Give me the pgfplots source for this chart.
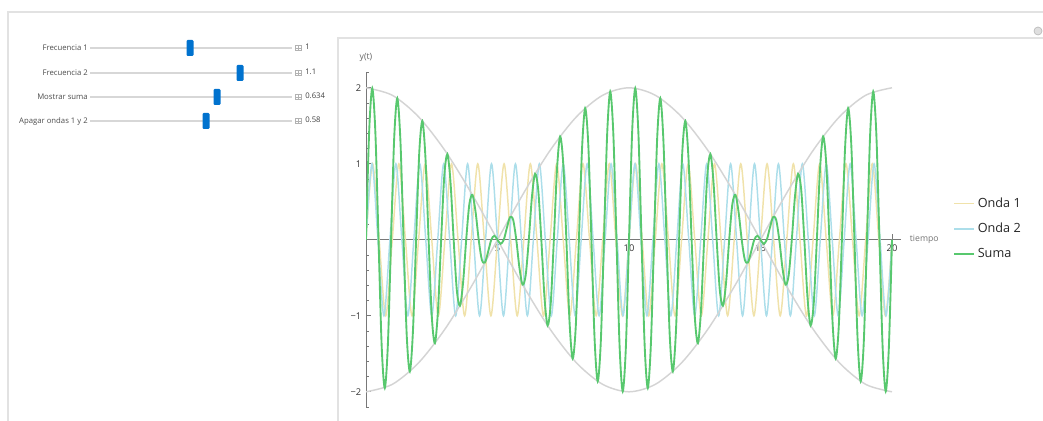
\documentclass[border=0pt]{standalone}
\usepackage{pgfplots}
\pgfplotsset{compat=1.18}
\usepackage{fontspec}
\setmainfont{Open Sans}
\definecolor{onda1}{RGB}{240,226,170}
\definecolor{onda2}{RGB}{172,222,234}
\definecolor{suma}{RGB}{88,200,110}
\definecolor{env}{RGB}{212,212,212}
\definecolor{axisgray}{RGB}{120,120,120}
\definecolor{handle}{RGB}{0,114,206}
\definecolor{framec}{RGB}{226,226,226}
\definecolor{trackc}{RGB}{215,215,215}
\begin{document}
\begin{tikzpicture}[x=0.75pt,y=0.75pt]
\path[use as bounding box] (0,0) rectangle (1043,421);
\begin{scope}[shift={(0,421)},yscale=-1]
  % frames
  \draw[framec, line width=1.2pt] (8,421) -- (8,12) -- (1043,12);
  \draw[framec, line width=0.9pt] (338,421) -- (338,38) -- (1043,38);
  \draw[gray!55, fill=gray!25, line width=0.5pt] (1038,31) circle (4);
  % sliders
  \foreach \yy/\lab/\hx/\val in {48/Frecuencia 1/190/1, 73/Frecuencia 2/240/1.1, 97/Mostrar suma/217/0.634, 121/Apagar ondas 1 y 2/206/0.58}{
    \draw[trackc, line width=1pt] (90,\yy) -- (292,\yy);
    \fill[handle, rounded corners=0.8pt] (\hx-3.5,\yy-8) rectangle (\hx+3.5,\yy+8);
    \node[anchor=east, inner sep=0pt, text=black!70, font=\fontsize{5.8}{7}\selectfont] at (88,\yy) {\lab};
    \draw[gray!60, line width=0.4pt] (295,\yy-2.5) rectangle (301,\yy+2.5);
    \draw[gray!60, line width=0.4pt] (298,\yy-2.5) -- (298,\yy+2.5) (295,\yy) -- (301,\yy);
    \node[anchor=west, inner sep=0pt, text=black!75, font=\fontsize{5.8}{7}\selectfont] at (305,\yy-1) {\val};
  }
\end{scope}
\begin{axis}[
  at={(274.5pt,10.5pt)}, anchor=south west,
  scale only axis, width=401.4pt, height=250.8pt,
  xmin=0, xmax=20.35, ymin=-2.2, ymax=2.2,
  axis lines=middle,
  axis line style={-, axisgray, line width=0.6pt},
  xtick={5,10,15,20}, xticklabels={5,10,15,20},
  ytick={-2,-1,1,2}, yticklabels={−2,−1,1,2},
  minor xtick={1,2,3,4,6,7,8,9,11,12,13,14,16,17,18,19},
  minor ytick={-2.2,-1.8,-1.6,-1.4,-1.2,-0.8,-0.6,-0.4,-0.2,0.2,0.4,0.6,0.8,1.2,1.4,1.6,1.8,2.2},
  tick align=inside,
  major tick length=4pt, minor tick length=2.2pt,
  tick style={axisgray, line width=0.5pt},
  ticklabel style={font=\fontsize{7}{8}\selectfont, text=black!80},
  xlabel={tiempo}, ylabel={y(t)},
  xlabel style={at={(axis cs:20.35,0)}, anchor=west, xshift=3pt, font=\fontsize{6.5}{8}\selectfont, text=black!55},
  ylabel style={at={(axis cs:0,2.2)}, anchor=south, yshift=5pt, rotate=0, font=\fontsize{6.5}{8}\selectfont, text=black!60},
  legend style={at={(1.09,0.533)}, anchor=west, draw=none, fill=none,
    font=\fontsize{9.5}{11}\selectfont, text=black!85, row sep=6.2pt},
  legend cell align=left,
  legend image code/.code={\draw[#1, line width=1.1pt] (0pt,0pt) -- (15pt,0pt);},
]
\addplot[onda1, line width=1.1pt, smooth] coordinates {
(0,0)(0.25,1)(0.5,0)(0.75,-1)(1,0)(1.25,1)(1.5,0)(1.75,-1)(2,0)(2.25,1)(2.5,0)(2.75,-1)
(3,0)(3.25,1)(3.5,0)(3.75,-1)(4,0)(4.25,1)(4.5,0)(4.75,-1)(5,0)(5.25,1)(5.5,0)(5.75,-1)
(6,0)(6.25,1)(6.5,0)(6.75,-1)(7,0)(7.25,1)(7.5,0)(7.75,-1)(8,0)(8.25,1)(8.5,0)(8.75,-1)
(9,0)(9.25,1)(9.5,0)(9.75,-1)(10,0)(10.25,1)(10.5,0)(10.75,-1)(11,0)(11.25,1)(11.5,0)(11.75,-1)
(12,0)(12.25,1)(12.5,0)(12.75,-1)(13,0)(13.25,1)(13.5,0)(13.75,-1)(14,0)(14.25,1)(14.5,0)(14.75,-1)
(15,0)(15.25,1)(15.5,0)(15.75,-1)(16,0)(16.25,1)(16.5,0)(16.75,-1)(17,0)(17.25,1)(17.5,0)(17.75,-1)
(18,0)(18.25,1)(18.5,0)(18.75,-1)(19,0)(19.25,1)(19.5,0)(19.75,-1)(20,0)};
\addlegendentry{Onda 1}
\addplot[onda2, line width=1.1pt, smooth] coordinates {
(0,0)(0.2273,1)(0.4545,0)(0.6818,-1)(0.9091,0)(1.1364,1)(1.3636,0)(1.5909,-1)(1.8182,0)(2.0455,1)
(2.2727,0)(2.5,-1)(2.7273,0)(2.9545,1)(3.1818,0)(3.4091,-1)(3.6364,0)(3.8636,1)(4.0909,0)(4.3182,-1)
(4.5455,0)(4.7727,1)(5,0)(5.2273,-1)(5.4545,0)(5.6818,1)(5.9091,0)(6.1364,-1)(6.3636,0)(6.5909,1)
(6.8182,0)(7.0455,-1)(7.2727,0)(7.5,1)(7.7273,0)(7.9545,-1)(8.1818,0)(8.4091,1)(8.6364,0)(8.8636,-1)
(9.0909,0)(9.3182,1)(9.5455,0)(9.7727,-1)(10,0)(10.2273,1)(10.4545,0)(10.6818,-1)(10.9091,0)(11.1364,1)
(11.3636,0)(11.5909,-1)(11.8182,0)(12.0455,1)(12.2727,0)(12.5,-1)(12.7273,0)(12.9545,1)(13.1818,0)(13.4091,-1)
(13.6364,0)(13.8636,1)(14.0909,0)(14.3182,-1)(14.5455,0)(14.7727,1)(15,0)(15.2273,-1)(15.4545,0)(15.6818,1)
(15.9091,0)(16.1364,-1)(16.3636,0)(16.5909,1)(16.8182,0)(17.0455,-1)(17.2727,0)(17.5,1)(17.7273,0)(17.9545,-1)
(18.1818,0)(18.4091,1)(18.6364,0)(18.8636,-1)(19.0909,0)(19.3182,1)(19.5455,0)(19.7727,-1)(20,0)};
\addlegendentry{Onda 2}
\addplot[env, line width=1.1pt, smooth, forget plot] coordinates {
(0,2)(1,1.902)(2,1.618)(3,1.176)(4,0.618)(5,0)(6,-0.618)(7,-1.176)(8,-1.618)(9,-1.902)(10,-2)
(11,-1.902)(12,-1.618)(13,-1.176)(14,-0.618)(15,0)(16,0.618)(17,1.176)(18,1.618)(19,1.902)(20,2)};
\addplot[env, line width=1.1pt, smooth, forget plot] coordinates {
(0,-2)(1,-1.902)(2,-1.618)(3,-1.176)(4,-0.618)(5,0)(6,0.618)(7,1.176)(8,1.618)(9,1.902)(10,2)
(11,1.902)(12,1.618)(13,1.176)(14,0.618)(15,0)(16,-0.618)(17,-1.176)(18,-1.618)(19,-1.902)(20,-2)};
\addplot[suma, line width=1.4pt, smooth] coordinates {
(0,0)(0.1190,1.413)(0.2381,1.994)(0.3571,1.405)(0.4762,0)(0.5952,-1.390)(0.7143,-1.950)(0.8333,-1.366)
(0.9524,0)(1.0714,1.335)(1.1905,1.862)(1.3095,1.296)(1.4286,0)(1.5476,-1.250)(1.6667,-1.732)(1.7857,-1.197)
(1.9048,0)(2.0238,1.138)(2.1429,1.564)(2.2619,1.072)(2.3810,0)(2.5,-1.000)(2.6190,-1.360)(2.7381,-0.922)
(2.8571,0)(2.9762,0.840)(3.0952,1.127)(3.2143,0.752)(3.3333,0)(3.4524,-0.661)(3.5714,-0.868)(3.6905,-0.566)
(3.8095,0)(3.9286,0.467)(4.0476,0.590)(4.1667,0.366)(4.2857,0)(4.4048,-0.263)(4.5238,-0.298)(4.6429,-0.158)
(4.7619,0)(4.8810,0.053)(5,0)(5.1190,-0.053)(5.2381,0)(5.3571,0.158)(5.4762,0.298)(5.5952,0.263)
(5.7143,0)(5.8333,-0.366)(5.9524,-0.590)(6.0714,-0.467)(6.1905,0)(6.3095,0.566)(6.4286,0.868)(6.5476,0.661)
(6.6667,0)(6.7857,-0.752)(6.9048,-1.127)(7.0238,-0.840)(7.1429,0)(7.2619,0.922)(7.3810,1.360)(7.5,1.000)
(7.6190,0)(7.7381,-1.072)(7.8571,-1.564)(7.9762,-1.138)(8.0952,0)(8.2143,1.197)(8.3333,1.732)(8.4524,1.250)
(8.5714,0)(8.6905,-1.296)(8.8095,-1.862)(8.9286,-1.335)(9.0476,0)(9.1667,1.366)(9.2857,1.950)(9.4048,1.390)
(9.5238,0)(9.6429,-1.405)(9.7619,-1.994)(9.8810,-1.413)
(10,0)(10.1190,1.413)(10.2381,1.994)(10.3571,1.405)(10.4762,0)(10.5952,-1.390)(10.7143,-1.950)(10.8333,-1.366)
(10.9524,0)(11.0714,1.335)(11.1905,1.862)(11.3095,1.296)(11.4286,0)(11.5476,-1.250)(11.6667,-1.732)(11.7857,-1.197)
(11.9048,0)(12.0238,1.138)(12.1429,1.564)(12.2619,1.072)(12.3810,0)(12.5,-1.000)(12.6190,-1.360)(12.7381,-0.922)
(12.8571,0)(12.9762,0.840)(13.0952,1.127)(13.2143,0.752)(13.3333,0)(13.4524,-0.661)(13.5714,-0.868)(13.6905,-0.566)
(13.8095,0)(13.9286,0.467)(14.0476,0.590)(14.1667,0.366)(14.2857,0)(14.4048,-0.263)(14.5238,-0.298)(14.6429,-0.158)
(14.7619,0)(14.8810,0.053)(15,0)(15.1190,-0.053)(15.2381,0)(15.3571,0.158)(15.4762,0.298)(15.5952,0.263)
(15.7143,0)(15.8333,-0.366)(15.9524,-0.590)(16.0714,-0.467)(16.1905,0)(16.3095,0.566)(16.4286,0.868)(16.5476,0.661)
(16.6667,0)(16.7857,-0.752)(16.9048,-1.127)(17.0238,-0.840)(17.1429,0)(17.2619,0.922)(17.3810,1.360)(17.5,1.000)
(17.6190,0)(17.7381,-1.072)(17.8571,-1.564)(17.9762,-1.138)(18.0952,0)(18.2143,1.197)(18.3333,1.732)(18.4524,1.250)
(18.5714,0)(18.6905,-1.296)(18.8095,-1.862)(18.9286,-1.335)(19.0476,0)(19.1667,1.366)(19.2857,1.950)(19.4048,1.390)
(19.5238,0)(19.6429,-1.405)(19.7619,-1.994)(19.8810,-1.413)(20,0)};
\addlegendentry{Suma}
\end{axis}
\end{tikzpicture}
\end{document}
